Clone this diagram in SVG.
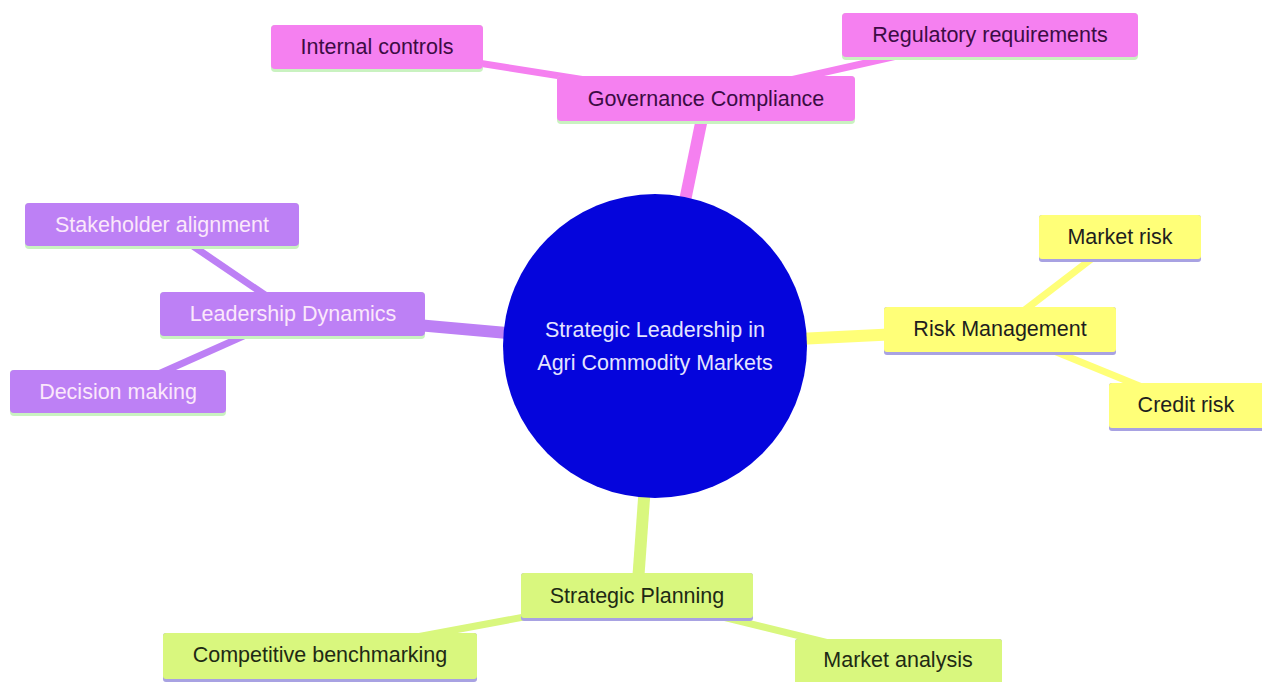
<svg xmlns="http://www.w3.org/2000/svg" width="1262" height="682" viewBox="0 0 1262 682">
<style>
text{font-family:"Liberation Sans",Arial,sans-serif;font-size:21.5px;text-anchor:middle;dominant-baseline:central}
.pk rect.b{fill:#f580f0}.pk text{fill:#3c0c44}
.pu rect.b{fill:#bd80f5}.pu text{fill:#fbe8fb}
.ye rect.b{fill:#ffff78}.ye text{fill:#1e1e1e}
.gr rect.b{fill:#d9f77e}.gr text{fill:#1e2a14}
rect.ug{fill:#c9f2c0}rect.up{fill:#a8a2e2}
.e{fill:none;stroke-linecap:butt}
.ep{stroke:#f580f0}.eu{stroke:#bd80f5}.ey{stroke:#ffff78}.eg{stroke:#d9f77e}
.t{stroke-width:12}.c{stroke-width:7}
</style>
<rect width="1262" height="682" fill="#ffffff"/>
<g id="connectors">
<line class="e ep c" x1="377" y1="47" x2="706" y2="99"/>
<line class="e ep c" x1="990" y1="35" x2="706" y2="99"/>
<line class="e ep t" x1="706" y1="99" x2="655" y2="346"/>
<line class="e eu c" x1="162" y1="225" x2="293" y2="314"/>
<line class="e eu c" x1="118" y1="392" x2="293" y2="314"/>
<line class="e eu t" x1="293" y1="314" x2="655" y2="346"/>
<line class="e ey c" x1="1120" y1="237" x2="1000" y2="329"/>
<line class="e ey c" x1="1186" y1="405" x2="1000" y2="329"/>
<line class="e ey t" x1="1000" y1="329" x2="655" y2="346"/>
<line class="e eg c" x1="637" y1="596" x2="320" y2="655"/>
<line class="e eg c" x1="637" y1="596" x2="898" y2="660"/>
<line class="e eg t" x1="637" y1="596" x2="655" y2="346"/>
</g>
<g id="root">
<circle cx="655" cy="346" r="152" fill="#0505dc"/>
<text x="655" y="330" fill="#e4e4ff">Strategic Leadership in</text>
<text x="655" y="363" fill="#e4e4ff">Agri Commodity Markets</text>
</g>
<g id="governance" class="pk">
<rect class="ug" x="557" y="76" width="298" height="48" rx="4"/>
<rect class="b" x="557" y="76" width="298" height="45" rx="4"/>
<text x="706" y="99">Governance Compliance</text>
</g>
<g id="internal" class="pk">
<rect class="ug" x="271" y="25" width="212" height="47" rx="4"/>
<rect class="b" x="271" y="25" width="212" height="44" rx="4"/>
<text x="377" y="47">Internal controls</text>
</g>
<g id="regulatory" class="pk">
<rect class="ug" x="842" y="13" width="296" height="47" rx="4"/>
<rect class="b" x="842" y="13" width="296" height="44" rx="4"/>
<text x="990" y="35">Regulatory requirements</text>
</g>
<g id="leadership" class="pu">
<rect class="ug" x="160" y="292" width="265" height="47" rx="4"/>
<rect class="b" x="160" y="292" width="265" height="44" rx="4"/>
<text x="293" y="314">Leadership Dynamics</text>
</g>
<g id="stakeholder" class="pu">
<rect class="ug" x="25" y="203" width="274" height="46" rx="4"/>
<rect class="b" x="25" y="203" width="274" height="43" rx="4"/>
<text x="162" y="225">Stakeholder alignment</text>
</g>
<g id="decision" class="pu">
<rect class="ug" x="10" y="370" width="216" height="46" rx="4"/>
<rect class="b" x="10" y="370" width="216" height="43" rx="4"/>
<text x="118" y="392">Decision making</text>
</g>
<g id="risk" class="ye">
<rect class="up" x="884" y="307" width="232" height="48" rx="3"/>
<rect class="b" x="884" y="307" width="232" height="45" rx="3"/>
<text x="1000" y="329">Risk Management</text>
</g>
<g id="marketrisk" class="ye">
<rect class="up" x="1039" y="215" width="162" height="47" rx="3"/>
<rect class="b" x="1039" y="215" width="162" height="44" rx="3"/>
<text x="1120" y="237">Market risk</text>
</g>
<g id="creditrisk" class="ye">
<rect class="up" x="1109" y="383" width="160" height="48" rx="3"/>
<rect class="b" x="1109" y="383" width="160" height="45" rx="3"/>
<text x="1186" y="405">Credit risk</text>
</g>
<g id="planning" class="gr">
<rect class="up" x="521" y="573" width="232" height="48" rx="3"/>
<rect class="b" x="521" y="573" width="232" height="45" rx="3"/>
<text x="637" y="596">Strategic Planning</text>
</g>
<g id="benchmarking" class="gr">
<rect class="up" x="163" y="633" width="314" height="49" rx="3"/>
<rect class="b" x="163" y="633" width="314" height="46" rx="3"/>
<text x="320" y="655">Competitive benchmarking</text>
</g>
<g id="analysis" class="gr">
<rect class="up" x="795" y="639" width="207" height="48" rx="3"/>
<rect class="b" x="795" y="639" width="207" height="45" rx="3"/>
<text x="898" y="660">Market analysis</text>
</g>
</svg>
